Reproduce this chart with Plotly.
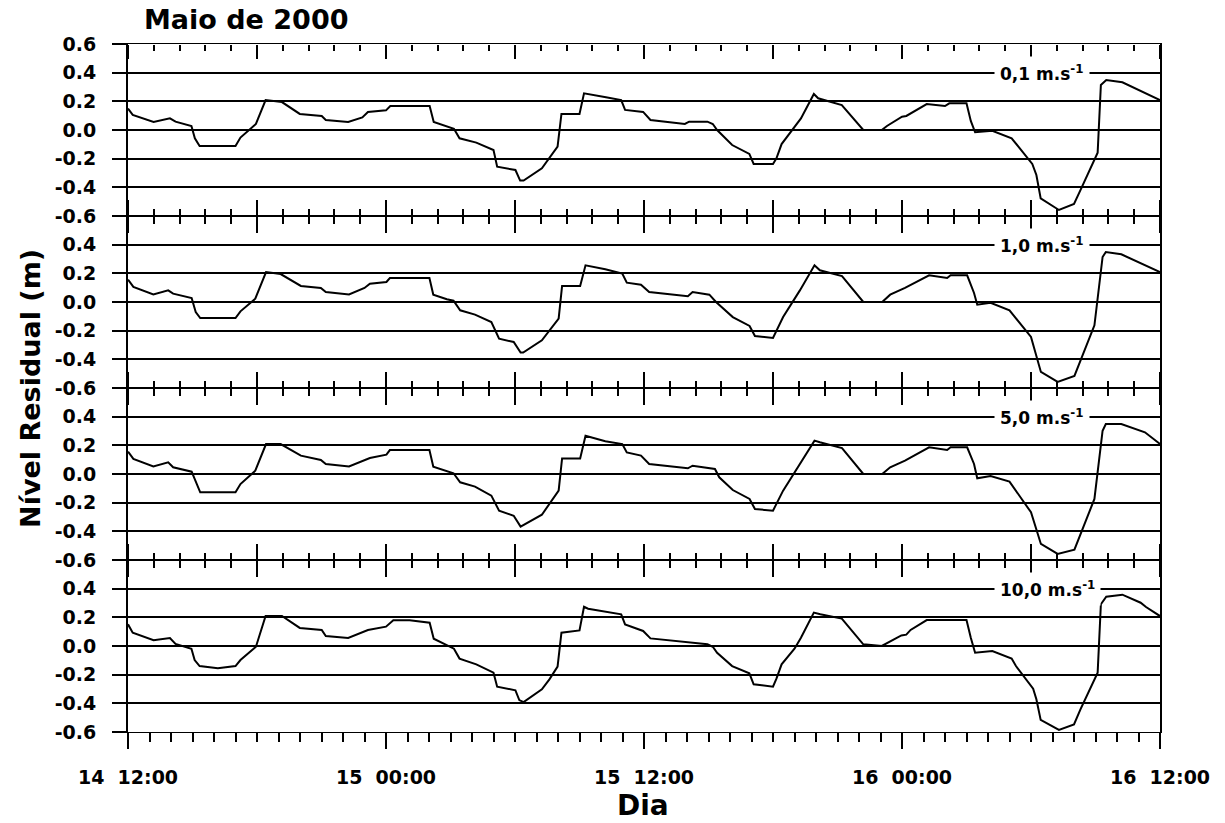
import plotly.graph_objects as go

# ---- data: hours since 14 May 2000 12:00, residual level (m) ----
readings_01 = [(0, 0.15), (0.22, 0.105), (1.19, 0.056), (1.95, 0.081), (2.21, 0.058), (2.95, 0.028),
               (3.11, -0.058), (3.33, -0.112), (5.0, -0.112), (5.23, -0.053), (5.95, 0.042), (6.4, 0.209),
               (7.16, 0.195), (7.99, 0.112), (9.01, 0.098), (9.2, 0.07), (10.24, 0.056), (10.9, 0.088),
               (11.16, 0.126), (12.0, 0.137), (12.2, 0.167), (14.03, 0.167), (14.22, 0.056), (14.98, 0.016),
               (15.16, 0.009), (15.42, -0.058), (16.2, -0.088), (17.0, -0.14), (17.17, -0.256), (18.02, -0.279),
               (18.24, -0.353), (18.4, -0.353), (19.25, -0.267), (19.98, -0.116), (20.16, 0.112), (21.0, 0.112),
               (21.21, 0.256), (22.23, 0.228), (22.94, 0.209), (23.12, 0.14), (23.96, 0.126), (24.3, 0.07),
               (25.9, 0.042), (26.1, 0.058), (26.95, 0.058), (27.2, 0.042), (27.4, 0.0), (28.1, -0.105),
               (28.9, -0.167), (29.1, -0.237), (30.0, -0.237), (30.16, -0.198), (30.4, -0.098), (31.3, 0.081),
               (31.9, 0.251), (32.1, 0.221), (33.2, 0.174), (34.2, 0.0), (35.06, 0.0), (35.3, 0.028),
               (36.0, 0.093), (36.2, 0.098), (37.15, 0.181), (38.0, 0.167), (38.2, 0.186), (39.0, 0.186),
               (39.2, 0.063), (39.4, -0.016), (40.2, -0.005), (41.1, -0.058), (41.35, -0.105), (42.06, -0.237),
               (42.25, -0.314), (42.45, -0.477), (43.3, -0.558), (44.0, -0.516), (44.3, -0.419), (45.1, -0.158),
               (45.25, 0.314), (45.5, 0.349), (46.25, 0.333), (48.0, 0.209)]

readings_10 = [(0, 0.156), (0.25, 0.105), (1.18, 0.053), (1.87, 0.081), (2.1, 0.058), (2.96, 0.028),
               (3.15, -0.07), (3.36, -0.112), (5.0, -0.112), (5.23, -0.065), (5.92, 0.023), (6.42, 0.209),
               (7.1, 0.195), (8.04, 0.112), (8.97, 0.098), (9.2, 0.07), (10.28, 0.053), (11.0, 0.098),
               (11.25, 0.128), (12.02, 0.14), (12.18, 0.167), (14.02, 0.167), (14.2, 0.051), (14.83, 0.019),
               (15.14, 0.009), (15.45, -0.058), (16.14, -0.088), (16.9, -0.14), (17.26, -0.256), (17.94, -0.279),
               (18.26, -0.353), (18.38, -0.353), (19.25, -0.267), (20.03, -0.116), (20.19, 0.112), (21.03, 0.112),
               (21.28, 0.256), (22.2, 0.228), (22.99, 0.198), (23.2, 0.135), (23.86, 0.121), (24.24, 0.07),
               (26.04, 0.04), (26.26, 0.07), (27.04, 0.051), (27.35, 0.0), (28.13, -0.105), (28.91, -0.167),
               (29.16, -0.237), (30.0, -0.251), (30.47, -0.105), (31.25, 0.081), (31.93, 0.256), (32.18, 0.221),
               (33.21, 0.181), (34.2, 0.0), (35.08, 0.0), (35.45, 0.051), (36.14, 0.098), (37.26, 0.186),
               (38.1, 0.167), (38.26, 0.186), (39.03, 0.186), (39.35, 0.063), (39.5, -0.019), (40.12, -0.005),
               (41.0, -0.058), (42.0, -0.244), (42.46, -0.488), (43.24, -0.558), (44.02, -0.516), (44.95, -0.163),
               (45.33, 0.314), (45.48, 0.349), (46.2, 0.333), (48.0, 0.209)]

readings_50 = [(0, 0.156), (0.25, 0.105), (1.18, 0.053), (1.87, 0.081), (2.1, 0.047), (2.96, 0.016),
               (3.36, -0.128), (5.0, -0.128), (5.23, -0.07), (5.92, 0.023), (6.42, 0.209), (7.1, 0.209),
               (8.04, 0.128), (8.97, 0.098), (9.2, 0.07), (10.28, 0.053), (11.25, 0.112), (12.02, 0.135),
               (12.18, 0.167), (14.02, 0.167), (14.2, 0.051), (15.14, 0.005), (15.45, -0.058), (16.14, -0.088),
               (16.9, -0.151), (17.26, -0.256), (17.94, -0.291), (18.26, -0.367), (19.25, -0.284), (20.03, -0.116),
               (20.19, 0.109), (21.03, 0.109), (21.28, 0.267), (22.2, 0.228), (22.99, 0.209), (23.2, 0.151),
               (23.86, 0.128), (24.24, 0.07), (26.04, 0.04), (26.26, 0.058), (27.3, 0.035), (27.5, -0.023),
               (28.13, -0.112), (28.91, -0.174), (29.16, -0.244), (30.0, -0.256), (30.47, -0.116), (31.25, 0.07),
               (31.93, 0.233), (32.18, 0.221), (33.21, 0.181), (34.2, 0.0), (35.08, 0.0), (35.45, 0.047),
               (36.14, 0.093), (37.26, 0.186), (38.1, 0.167), (38.26, 0.186), (39.03, 0.186), (39.35, 0.07),
               (39.5, -0.03), (40.12, -0.014), (41.0, -0.053), (42.0, -0.267), (42.46, -0.488), (43.24, -0.558),
               (44.02, -0.528), (44.95, -0.174), (45.33, 0.302), (45.48, 0.349), (46.2, 0.349), (47.3, 0.291),
               (48.0, 0.209)]

readings_100 = [(0, 0.151), (0.22, 0.093), (1.19, 0.04), (1.95, 0.056), (2.21, 0.014), (2.95, -0.019),
                (3.1, -0.098), (3.33, -0.14), (4.18, -0.156), (5.0, -0.14), (5.23, -0.098), (5.95, -0.005),
                (6.4, 0.209), (7.16, 0.209), (7.99, 0.126), (9.01, 0.112), (9.2, 0.07), (10.24, 0.056),
                (11.16, 0.112), (12.0, 0.135), (12.34, 0.179), (13.1, 0.179), (14.03, 0.163), (14.22, 0.051),
                (15.16, -0.019), (15.42, -0.088), (16.2, -0.128), (17.0, -0.186), (17.17, -0.284), (18.02, -0.309),
                (18.2, -0.377), (18.4, -0.391), (19.25, -0.302), (19.6, -0.233), (19.98, -0.144), (20.16, 0.093),
                (21.0, 0.109), (21.21, 0.274), (21.4, 0.26), (22.23, 0.237), (22.94, 0.221), (23.12, 0.151),
                (23.96, 0.105), (24.3, 0.053), (26.1, 0.028), (26.95, 0.012), (27.2, -0.005), (27.4, -0.047),
                (28.1, -0.14), (28.9, -0.191), (29.1, -0.267), (30.0, -0.284), (30.16, -0.228), (30.4, -0.128),
                (31.0, -0.019), (31.3, 0.058), (31.9, 0.233), (32.2, 0.221), (33.2, 0.191), (34.2, 0.012),
                (35.06, 0.0), (35.97, 0.074), (36.2, 0.079), (36.4, 0.112), (37.15, 0.181), (39.0, 0.181),
                (39.2, 0.058), (39.4, -0.047), (40.2, -0.035), (41.1, -0.088), (41.3, -0.14), (42.1, -0.298),
                (42.25, -0.372), (42.45, -0.516), (43.3, -0.586), (44.0, -0.547), (44.3, -0.442), (45.1, -0.186),
                (45.25, 0.291), (45.5, 0.344), (46.25, 0.358), (47.1, 0.302), (47.35, 0.272), (48.0, 0.209)]

panel_series = [readings_01, readings_10, readings_50, readings_100]
panel_labels = ["0,1 m.s<sup>-1</sup>", "1,0 m.s<sup>-1</sup>", "5,0 m.s<sup>-1</sup>", "10,0 m.s<sup>-1</sup>"]

y_ticks_top = [0.6, 0.4, 0.2, 0.0, -0.2, -0.4, -0.6]
y_ticks_other = [0.4, 0.2, 0.0, -0.2, -0.4, -0.6]
x_label_hours = [0, 12, 24, 36, 48]
x_label_text = ["14\u00a0\u00a012:00", "15\u00a0\u00a000:00", "15\u00a0\u00a012:00",
                "16\u00a0\u00a000:00", "16\u00a0\u00a012:00"]
inner_major_hours = [0, 6, 12, 18, 24, 30, 36, 42, 48]

FONT = "DejaVu Sans"
BLACK = "#000000"
n = len(panel_series)

fig = go.Figure()
for i, series in enumerate(panel_series):
    k = i + 1
    fig.add_trace(go.Scatter(x=[p[0] for p in series], y=[p[1] for p in series], mode="lines",
                             line=dict(color=BLACK, width=2), xaxis=f"x{k}", yaxis=f"y{k}",
                             showlegend=False, hoverinfo="skip"))

layout = dict(width=1225, height=823, plot_bgcolor="white", paper_bgcolor="white",
              margin=dict(l=128, r=65, t=44, b=91), showlegend=False)

# y axes (one per panel, stacked with no gap)
for i in range(n):
    k = i + 1
    tv = y_ticks_top if i == 0 else y_ticks_other
    layout[f"yaxis{k}"] = dict(domain=[1 - (i + 1) / n, 1 - i / n], range=[-0.6, 0.6], anchor=f"x{k}",
                               tickmode="array", tickvals=tv, ticktext=[f"{v:.1f}" for v in tv],
                               ticks="outside", ticklen=14, tickwidth=2, tickcolor=BLACK,
                               showgrid=True, gridcolor=BLACK, gridwidth=2,
                               showline=True, linecolor=BLACK, linewidth=2, mirror=True, zeroline=False,
                               fixedrange=True, ticklabelstandoff=12,
                               tickfont=dict(family=FONT, size=19, color=BLACK, weight="bold"))

# base x axes (lines only) for panels 1-3
for i in range(n - 1):
    k = i + 1
    layout[f"xaxis{k}"] = dict(range=[0, 48], anchor=f"y{k}", showline=True, linecolor=BLACK, linewidth=1,
                               mirror=True, ticks="", showticklabels=False, showgrid=False,
                               zeroline=False, fixedrange=True)

# bottom labelled axis
layout["xaxis4"] = dict(range=[0, 48], anchor="y4", side="bottom", showline=True, linecolor=BLACK,
                        linewidth=1, mirror=True, ticks="outside", tickmode="array", tickvals=x_label_hours,
                        ticktext=x_label_text, ticklen=16, tickwidth=2, tickcolor=BLACK, showgrid=False,
                        zeroline=False, fixedrange=True, ticklabelstandoff=12,
                        tickfont=dict(family=FONT, size=19, color=BLACK, weight="bold"),
                        minor=dict(ticks="outside", tickmode="linear", tick0=0, dtick=1, ticklen=9,
                                   tickwidth=2, tickcolor=BLACK, showgrid=False))

# tick rows on the panel borders: (position, side, major length, minor length)
tick_rows = [(1.0, "bottom", 14, 6)]
for i in range(1, n):
    pos = 1 - i / n
    tick_rows.append((pos, "bottom", 16, 7))
    tick_rows.append((pos, "top", 16, 7))

for j, (pos, side, mlen, nlen) in enumerate(tick_rows):
    k = n + 1 + j
    layout[f"xaxis{k}"] = dict(range=[0, 48], overlaying="x", anchor="free", position=pos, side=side,
                               showline=False, ticks="outside", tickmode="array", tickvals=inner_major_hours,
                               ticklen=mlen, tickwidth=2, tickcolor=BLACK, showticklabels=False,
                               showgrid=False, zeroline=False, fixedrange=True,
                               minor=dict(ticks="outside", tickmode="linear", tick0=0, dtick=1.2,
                                          ticklen=nlen, tickwidth=2, tickcolor=BLACK, showgrid=False))
    fig.add_trace(go.Scatter(x=[None], y=[None], xaxis=f"x{k}", yaxis="y", showlegend=False,
                             hoverinfo="skip"))

annotations = []
for i, lab in enumerate(panel_labels):
    k = i + 1
    annotations.append(dict(text=lab, x=40.3, y=0.4, xref=f"x{k}", yref=f"y{k}", xanchor="left",
                            yanchor="middle", showarrow=False, bgcolor="white", borderpad=5,
                            font=dict(family=FONT, size=17, color=BLACK, weight="bold")))
annotations.append(dict(text="Maio de 2000", x=0.0136, y=1.035, xref="paper", yref="paper",
                        xanchor="left", yanchor="middle", showarrow=False,
                        font=dict(family=FONT, size=27, color=BLACK, weight="bold")))
annotations.append(dict(text="Nível Residual (m)", x=-0.095, y=0.5, xref="paper", yref="paper",
                        xanchor="center", yanchor="middle", textangle=-90, showarrow=False,
                        font=dict(family=FONT, size=27, color=BLACK, weight="bold")))
annotations.append(dict(text="Dia", x=0.499, y=-0.1065, xref="paper", yref="paper",
                        xanchor="center", yanchor="middle", showarrow=False,
                        font=dict(family=FONT, size=28, color=BLACK, weight="bold")))
layout["annotations"] = annotations

fig.update_layout(**layout)
fig.write_html("out.html")
